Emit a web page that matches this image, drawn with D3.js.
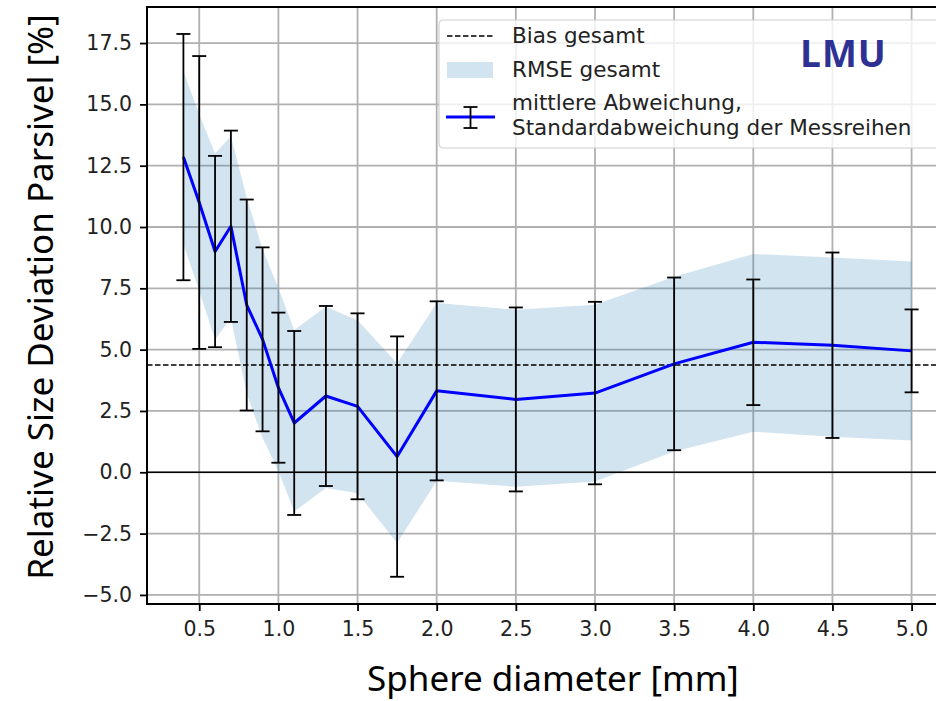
<!DOCTYPE html>
<html>
<head>
<meta charset="utf-8">
<script src="https://cdn.jsdelivr.net/npm/d3@7"></script>
<style>
  body { margin: 0; background: #fff; }
  svg { display: block; }
</style>
</head>
<body>
<div id="chart"></div>
<script>
// sphere diameters [mm]
const diameters = [0.4, 0.5, 0.6, 0.7, 0.8, 0.9, 1.0, 1.1, 1.3, 1.5, 1.75, 2.0, 2.5, 3.0, 3.5, 4.0, 4.5, 5.0]
// mean relative deviation [%] and std of the measurement series
const meanDev = [12.85, 11.0, 9.0, 10.03, 6.82, 5.42, 3.45, 2.01, 3.11, 2.69, 0.64, 3.32, 2.97, 3.23, 4.42, 5.30, 5.18, 4.95]
const stdDev = [5.02, 5.97, 3.9, 3.9, 4.3, 3.75, 3.06, 3.75, 3.67, 3.79, 4.9, 3.65, 3.75, 3.72, 3.52, 2.56, 3.78, 1.69]
// RMSE band
const rmseUpper = [16.35, 14.6, 13.0, 13.7, 11.2, 9.1, 7.5, 5.8, 6.75, 6.2, 4.45, 6.9, 6.63, 6.83, 7.97, 8.9, 8.76, 8.59]
const rmseLower = [9.3, 7.4, 5.4, 6.3, 3.2, 1.4, 0.05, -1.6, -0.64, -0.85, -2.88, -0.35, -0.59, -0.38, 0.85, 1.65, 1.45, 1.3]
const bias = 4.37

const xTicks = [0.5, 1.0, 1.5, 2.0, 2.5, 3.0, 3.5, 4.0, 4.5, 5.0]
const yTicks = [-5, -2.5, 0, 2.5, 5, 7.5, 10, 12.5, 15, 17.5]

const legendLabels = ['Bias gesamt', 'RMSE gesamt', 'mittlere Abweichung,', 'Standardabweichung der Messreihen']

const W = 936, H = 701
let margin = { top: 7, left: 147 },
    width = 801,
    height = 597

const data = diameters.map((d, i) => ({
    x: d, mean: meanDev[i], std: stdDev[i], hi: rmseUpper[i], lo: rmseLower[i]
}))

const svg = d3.select('#chart').append('svg')
    .attr('width', W).attr('height', H)

const g = svg.append('g')
    .attr('transform', 'translate(' + margin.left + ',' + margin.top + ')')

let x = d3.scaleLinear().domain([0.17, 5.23]).range([0, width])
let y = d3.scaleLinear().domain([-5.37, 18.97]).range([height, 0])

const tickFont = '"DejaVu Sans", sans-serif'

// grid
g.append('g').attr('class', 'grid-x')
    .selectAll('line').data(xTicks).enter().append('line')
    .attr('x1', d => x(d)).attr('x2', d => x(d))
    .attr('y1', 0).attr('y2', height)
    .attr('stroke', '#b0b0b0').attr('stroke-width', 1.8)
g.append('g').attr('class', 'grid-y')
    .selectAll('line').data(yTicks).enter().append('line')
    .attr('y1', d => y(d)).attr('y2', d => y(d))
    .attr('x1', 0).attr('x2', width)
    .attr('stroke', '#b0b0b0').attr('stroke-width', 1.8)

// RMSE band
g.append('path')
    .datum(data)
    .attr('fill', '#1f77b4').attr('fill-opacity', 0.2)
    .attr('d', d3.area()
        .x(d => x(d.x))
        .y0(d => y(d.lo))
        .y1(d => y(d.hi)))

// zero line
g.append('line')
    .attr('x1', 0).attr('x2', width)
    .attr('y1', y(0)).attr('y2', y(0))
    .attr('stroke', '#000').attr('stroke-width', 1.5)

// bias line
g.append('line')
    .attr('x1', 0).attr('x2', width)
    .attr('y1', y(bias)).attr('y2', y(bias))
    .attr('stroke', '#000').attr('stroke-width', 1.5)
    .attr('stroke-dasharray', '5.5,2.5')

// mean line
g.append('path')
    .datum(data)
    .attr('fill', 'none')
    .attr('stroke', '#0000ff').attr('stroke-width', 3)
    .attr('stroke-linejoin', 'round')
    .attr('d', d3.line().x(d => x(d.x)).y(d => y(d.mean)))

// error bars
let bars = g.append('g').attr('class', 'errorbars')
    .selectAll('g').data(data).enter().append('g')
bars.append('line')
    .attr('x1', d => x(d.x)).attr('x2', d => x(d.x))
    .attr('y1', d => y(d.mean + d.std)).attr('y2', d => y(d.mean - d.std))
    .attr('stroke', '#000').attr('stroke-width', 1.8)
bars.selectAll('.cap')
    .data(d => [d.mean + d.std, d.mean - d.std].map(v => ({ x: d.x, v: v })))
    .enter().append('line')
    .attr('class', 'cap')
    .attr('x1', d => x(d.x) - 7).attr('x2', d => x(d.x) + 7)
    .attr('y1', d => y(d.v)).attr('y2', d => y(d.v))
    .attr('stroke', '#000').attr('stroke-width', 1.8)

// axes
let xAxis = g.append('g')
    .attr('transform', 'translate(0,' + height + ')')
    .call(d3.axisBottom(x).tickValues(xTicks).tickFormat(d3.format('.1f')).tickSizeOuter(0).tickSize(7).tickPadding(10))
let yAxis = g.append('g')
    .call(d3.axisLeft(y).tickValues(yTicks).tickFormat(d => d3.format('.1f')(d).replace('-', '\u2212')).tickSizeOuter(0).tickSize(7).tickPadding(8))

;[xAxis, yAxis].forEach(a => {
    a.select('.domain').remove()
    a.selectAll('.tick line').attr('stroke', '#000').attr('stroke-width', 1.8)
    a.selectAll('.tick text').attr('font-family', tickFont).attr('font-size', 20.5).attr('fill', '#222')
})

// spines
g.append('rect')
    .attr('x', 0).attr('y', 0).attr('width', width).attr('height', height)
    .attr('fill', 'none').attr('stroke', '#000').attr('stroke-width', 2)

// axis labels
svg.append('text')
    .attr('x', 553).attr('y', 691)
    .attr('text-anchor', 'middle')
    .attr('font-family', '"Noto Sans", sans-serif').attr('font-size', 35)
    .attr('fill', '#000')
    .text('Sphere diameter [mm]')
svg.append('text')
    .attr('transform', 'translate(53,297) rotate(-90)')
    .attr('text-anchor', 'middle')
    .attr('font-family', '"Noto Sans", sans-serif').attr('font-size', 35)
    .attr('fill', '#000')
    .text('Relative Size Deviation Parsivel [%]')

// legend
let legend = svg.append('g').attr('transform', 'translate(439,20)')
legend.append('rect')
    .attr('width', 500).attr('height', 128).attr('rx', 4)
    .attr('fill', '#fff').attr('fill-opacity', 0.8)
    .attr('stroke', '#d0d0d0').attr('stroke-width', 1.2)

legend.append('line')
    .attr('x1', 8).attr('x2', 54).attr('y1', 16).attr('y2', 16)
    .attr('stroke', '#000').attr('stroke-width', 1.5).attr('stroke-dasharray', '5.5,2.5')
legend.append('rect')
    .attr('x', 8).attr('y', 42).attr('width', 46).attr('height', 16)
    .attr('fill', '#1f77b4').attr('fill-opacity', 0.2)
legend.append('line')
    .attr('x1', 7).attr('x2', 56).attr('y1', 97).attr('y2', 97)
    .attr('stroke', '#0000ff').attr('stroke-width', 3)
legend.append('line')
    .attr('x1', 31.5).attr('x2', 31.5).attr('y1', 87).attr('y2', 108)
    .attr('stroke', '#000').attr('stroke-width', 1.8)
;[87, 108].forEach(v => legend.append('line')
    .attr('x1', 24.5).attr('x2', 38.5).attr('y1', v).attr('y2', v)
    .attr('stroke', '#000').attr('stroke-width', 1.8))

const legendY = [23, 56.7, 90, 115]
legend.selectAll('.ltext').data(legendLabels).enter().append('text')
    .attr('class', 'ltext')
    .attr('x', 73).attr('y', (d, i) => legendY[i])
    .attr('font-family', tickFont).attr('font-size', 21.5)
    .attr('fill', '#222')
    .text(d => d)

// LMU mark
svg.append('text')
    .attr('x', 800).attr('y', 67)
    .attr('font-family', '"Open Sans", sans-serif').attr('font-weight', 'bold')
    .attr('font-size', 37).attr('letter-spacing', 1)
    .attr('fill', '#2e3192')
    .text('LMU')
</script>
</body>
</html>
